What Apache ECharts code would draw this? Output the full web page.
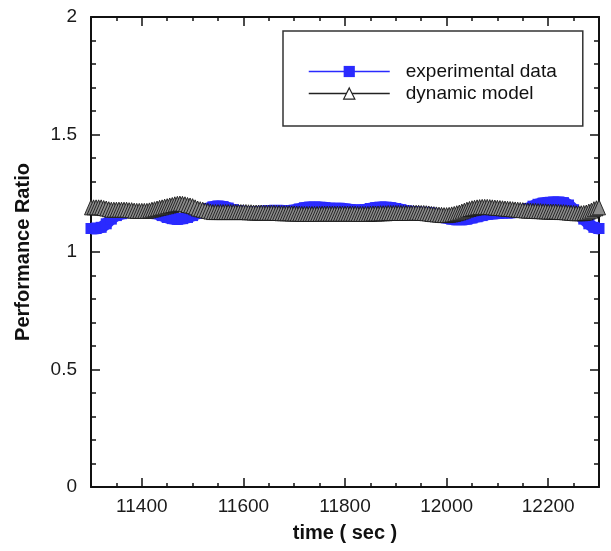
<!DOCTYPE html>
<html><head><meta charset="utf-8">
<script src="https://cdn.jsdelivr.net/npm/echarts@6/dist/echarts.min.js"></script>
<style>html,body{margin:0;padding:0;background:#fff}#c{width:611px;height:551px}</style>
</head><body><div id="c"></div>
<script>
// experimental data: every 10 s from 11300 s
const expStart = 11300, expStep = 10;
const expData = [
1.10,1.10,1.105,1.12,1.14,1.155,1.163,1.168,1.17,1.17,
1.17,1.17,1.168,1.163,1.155,1.147,1.142,1.14,1.142,1.147,
1.155,1.165,1.175,1.185,1.192,1.195,1.193,1.187,1.18,1.175,
1.172,1.17,1.17,1.171,1.173,1.175,1.176,1.176,1.175,1.175,
1.178,1.183,1.188,1.19,1.19,1.19,1.188,1.186,1.185,1.185,
1.183,1.18,1.178,1.178,1.18,1.185,1.188,1.19,1.19,1.188,
1.185,1.18,1.175,1.172,1.17,1.168,1.167,1.165,1.16,1.152,
1.145,1.14,1.138,1.138,1.14,1.145,1.15,1.155,1.16,1.163,
1.165,1.166,1.167,1.168,1.172,1.178,1.185,1.195,1.203,1.208,
1.21,1.212,1.212,1.21,1.2,1.18,1.16,1.14,1.12,1.105,
1.10];
// dynamic model: every 5 s from 11300 s
const modelStart = 11300, modelStep = 5;
const modelData = [
1.19,1.19,1.19,1.19,1.19,1.187,1.185,1.182,1.18,1.18,1.18,1.18,1.18,1.18,1.18,1.178,1.178,1.176,1.175,1.175,
1.175,1.175,1.175,1.177,1.18,1.182,1.185,1.188,1.19,1.193,1.195,1.198,1.2,1.203,1.205,1.206,1.205,1.203,1.2,1.198,
1.195,1.19,1.185,1.182,1.18,1.177,1.175,1.172,1.17,1.17,1.17,1.17,1.17,1.17,1.17,1.17,1.17,1.17,1.17,1.17,
1.17,1.17,1.169,1.169,1.168,1.168,1.168,1.168,1.167,1.167,1.167,1.167,1.167,1.166,1.166,1.165,1.165,1.165,1.165,1.164,
1.164,1.163,1.163,1.162,1.162,1.162,1.162,1.162,1.162,1.162,1.162,1.163,1.163,1.163,1.163,1.163,1.163,1.163,1.163,1.163,
1.163,1.163,1.163,1.163,1.163,1.162,1.162,1.162,1.162,1.162,1.163,1.164,1.164,1.164,1.165,1.165,1.165,1.166,1.166,1.166,
1.166,1.166,1.166,1.166,1.166,1.166,1.166,1.167,1.167,1.167,1.166,1.166,1.165,1.164,1.162,1.161,1.16,1.159,1.158,1.157,
1.157,1.158,1.16,1.162,1.165,1.168,1.172,1.176,1.18,1.183,1.186,1.188,1.19,1.191,1.192,1.192,1.192,1.191,1.19,1.189,
1.188,1.187,1.186,1.185,1.184,1.183,1.182,1.181,1.18,1.179,1.178,1.177,1.176,1.176,1.175,1.175,1.174,1.174,1.173,1.173,
1.172,1.172,1.172,1.172,1.171,1.17,1.17,1.169,1.168,1.167,1.166,1.165,1.165,1.165,1.166,1.168,1.172,1.176,1.182,1.186,
1.19];
const xMajorTicks = [11400,11600,11800,12000,12200];
const seriesNames = ['experimental data','dynamic model'];

const toPairs = (arr, start, step) => arr.map((v,i)=>[start + i*step, v]);
const font = 'Liberation Sans, Arial, sans-serif';
const chart = echarts.init(document.getElementById('c'));
const tickStyle = {color:'#111', width:1.5};
const labelColor = '#1a1a1a';
const xBase = {type:'value', min:11300, max:12300, splitLine:{show:false}};
chart.setOption({
  animation:false,
  grid:{left:91, right:12, top:17, bottom:64},
  legend:{
    left:283, top:31, orient:'vertical',
    padding:[31,26,23,25], itemGap:3, itemWidth:81, itemHeight:14,
    borderColor:'#333', borderWidth:1.5,
    textStyle:{fontFamily:font, fontSize:19, lineHeight:19, color:'#111', padding:[0,0,0,11]},
    data:[
      {name:seriesNames[0], lineStyle:{width:1.5}, itemStyle:{color:'#2a2aff'}},
      {name:seriesNames[1], lineStyle:{width:1.5}, itemStyle:{color:'#fff', borderColor:'#222', borderWidth:1.2}}
    ]
  },
  xAxis:[
    Object.assign({}, xBase, {position:'bottom',
      axisLine:{show:true, onZero:false, lineStyle:{color:'#111', width:2}},
      axisTick:{show:true, inside:true, length:9, lineStyle:tickStyle, customValues:xMajorTicks},
      axisLabel:{customValues:xMajorTicks, margin:10, fontFamily:font, fontSize:19, color:labelColor,
        formatter: v => String(v)},
      name:'time ( sec )', nameLocation:'middle', nameGap:36,
      nameTextStyle:{fontFamily:font, fontSize:20, fontWeight:'bold', color:'#111'}}),
    Object.assign({}, xBase, {position:'bottom', interval:50,
      axisLine:{show:false, onZero:false},
      axisTick:{show:true, inside:true, length:4, lineStyle:tickStyle},
      axisLabel:{show:false}}),
    Object.assign({}, xBase, {position:'top',
      axisLine:{show:true, onZero:false, lineStyle:{color:'#111', width:2}},
      axisTick:{show:true, inside:true, length:9, lineStyle:tickStyle, customValues:xMajorTicks},
      axisLabel:{show:false}}),
    Object.assign({}, xBase, {position:'top', interval:50,
      axisLine:{show:false, onZero:false},
      axisTick:{show:true, inside:true, length:4, lineStyle:tickStyle},
      axisLabel:{show:false}})
  ],
  yAxis:[
    {type:'value', min:0, max:2, interval:0.5, position:'left',
      axisLine:{show:true, onZero:false, lineStyle:{color:'#111', width:2}},
      axisTick:{show:true, inside:true, length:9, lineStyle:tickStyle},
      minorTick:{show:true, splitNumber:5, length:5, lineStyle:tickStyle},
      splitLine:{show:false},
      axisLabel:{margin:14, fontFamily:font, fontSize:19, color:labelColor},
      name:'Performance Ratio', nameLocation:'middle', nameGap:58,
      nameTextStyle:{fontFamily:font, fontSize:20, fontWeight:'bold', color:'#111'}},
    {type:'value', min:0, max:2, interval:0.5, position:'right',
      axisLine:{show:true, onZero:false, lineStyle:{color:'#111', width:2}},
      axisTick:{show:true, inside:true, length:9, lineStyle:tickStyle},
      minorTick:{show:true, splitNumber:5, length:5, lineStyle:tickStyle},
      splitLine:{show:false}, axisLabel:{show:false}}
  ],
  series:[
    {name:seriesNames[0], type:'line', xAxisIndex:0, yAxisIndex:0, data:toPairs(expData, expStart, expStep),
      clip:false, smooth:true, symbol:'rect', symbolSize:11, showAllSymbol:true,
      lineStyle:{color:'#2a2aff', width:12}, itemStyle:{color:'#2a2aff'}, z:2},
    {name:seriesNames[1], type:'line', xAxisIndex:0, yAxisIndex:0, data:toPairs(modelData, modelStart, modelStep),
      clip:false, smooth:true, symbol:'triangle', symbolSize:[13,15], showAllSymbol:true,
      lineStyle:{color:'#222', width:2}, itemStyle:{color:'#8c8c8c', borderColor:'#1a1a1a', borderWidth:0.9}, z:3}
  ]
});
</script></body></html>
